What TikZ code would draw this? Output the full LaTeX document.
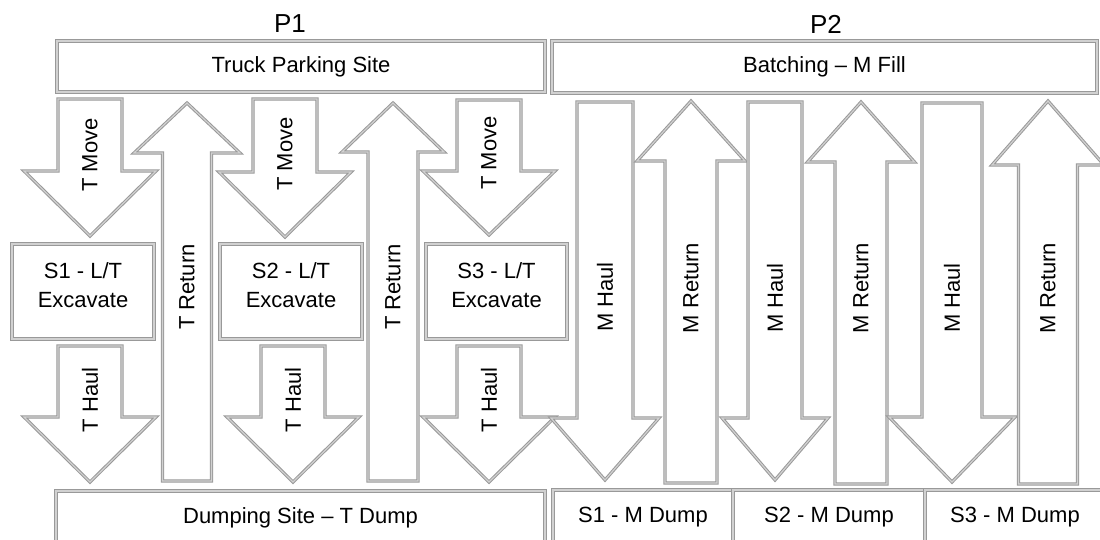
\documentclass[tikz,border=0pt]{standalone}
\usepackage{fontspec}
\setmainfont{Liberation Sans}
\usepackage{tikz}
\usetikzlibrary{positioning}
\newcommand{\sitefont}{\fontsize{22}{29}\selectfont}
\newcommand{\phasefont}{\fontsize{26}{30}\selectfont}
\tikzstyle{outline} = [draw=black!40, double=black!18, double distance=1.2pt, line width=1pt, fill=white]
\tikzstyle{site} = [rectangle, outline, text=black, font=\sitefont, inner sep=0pt, outer sep=0pt]
\tikzstyle{flowshape} = [outline, line join=miter]
\tikzstyle{flowlabel} = [rotate=90, text=black, font=\sitefont, inner sep=0pt]
% name, x, flat end y, shaft half width, head half width, head base y, tip y, label y, label
\newcommand{\flowarrow}[9]{%
    \draw[flowshape] (#2-#4,#3) -- (#2+#4,#3) -- (#2+#4,#6) -- (#2+#5,#6)
        -- (#2,#7) -- (#2-#5,#6) -- (#2-#4,#6) -- cycle;
    \node[flowlabel] (#1) at (#2,#8) {#9};
}
\begin{document}
\begin{tikzpicture}[x=1pt, y=-1pt]
    \useasboundingbox (0,0) rectangle (1100,539);

    % Phases
    \node[font=\phasefont] (p1) at (290,24) {P1};
    \node[font=\phasefont] (p2) at (826,24) {P2};

    % Top sites
    \node[site, minimum width=488pt, minimum height=51pt] (park) at (301,66.5) {Truck Parking Site};
    \node[site, minimum width=545pt, minimum height=52pt] (batch) at (824.5,67) {Batching – M Fill};

    % Excavation sites
    \node[site, align=center, text depth=12pt, minimum width=142pt, minimum height=95pt] (pit1) at (83,291.5) {S1 - L/T\\Excavate};
    \node[site, align=center, text depth=12pt, minimum width=142pt, minimum height=95pt] (pit2) at (291,291.5) {S2 - L/T\\Excavate};
    \node[site, align=center, text depth=12pt, minimum width=141pt, minimum height=95pt] (pit3) at (496.5,291.5) {S3 - L/T\\Excavate};

    % Bottom sites
    \node[site, minimum width=489pt, minimum height=54pt] (dump) at (300.5,518) {Dumping Site – T Dump};
    \node[site, minimum width=180pt, minimum height=55pt] (mdump1) at (643,517.5) {S1 - M Dump};
    \node[site, minimum width=192pt, minimum height=55pt, right=0pt of mdump1] (mdump2) {S2 - M Dump};
    \node[site, minimum width=180pt, minimum height=55pt, right=0pt of mdump2] (mdump3) {S3 - M Dump};

    % P1 trucks
    \flowarrow{tmove1}{90}{99}{32}{66}{171}{236}{155}{T Move}
    \flowarrow{tmove2}{285}{99}{32}{66}{172}{237}{154}{T Move}
    \flowarrow{tmove3}{489}{100}{32}{66}{171}{235}{153}{T Move}
    \flowarrow{treturn1}{187}{481}{24.5}{53}{153}{103}{287}{T Return}
    \flowarrow{treturn2}{393}{481}{25}{51}{152}{103}{287}{T Return}
    \flowarrow{thaul1}{90}{346}{32}{66}{417}{482}{400}{T Haul}
    \flowarrow{thaul2}{293}{346}{32}{66}{417}{482}{400}{T Haul}
    \flowarrow{thaul3}{489}{346}{32}{66}{417}{482}{400}{T Haul}

    % P2 material
    \flowarrow{mhaul1}{605}{102}{28}{54}{418}{480}{297}{M Haul}
    \flowarrow{mreturn1}{691}{483}{26}{54}{161}{101}{288}{M Return}
    \flowarrow{mhaul2}{775}{102}{27}{53}{418}{480}{298}{M Haul}
    \flowarrow{mreturn2}{861}{484}{26}{53.5}{162}{102}{288}{M Return}
    \flowarrow{mhaul3}{952}{103}{30}{63}{417}{482}{298}{M Haul}
    \flowarrow{mreturn3}{1048}{484}{29.5}{56}{165}{101}{288}{M Return}
\end{tikzpicture}
\end{document}
